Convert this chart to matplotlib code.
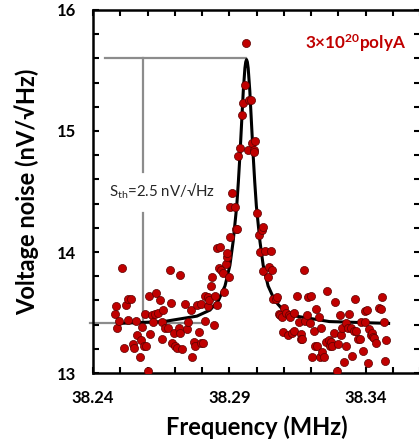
import matplotlib
matplotlib.use("Agg")
import matplotlib.pyplot as plt
from matplotlib.ticker import MultipleLocator

plt.rcParams['font.family'] = ['Lato', 'DejaVu Sans']
plt.rcParams['mathtext.default'] = 'regular'

# measured noise points (MHz, nV/sqrt(Hz))
freq = [38.2506, 38.2484, 38.2482, 38.2489, 38.2496, 38.2513, 38.2520, 38.2528, 38.2539, 38.2530,
        38.2545, 38.2551, 38.2563, 38.2559, 38.2572, 38.2576, 38.2581, 38.2587, 38.2591, 38.2596,
        38.2602, 38.2604, 38.2610, 38.2615, 38.2620, 38.2628, 38.2632, 38.2638, 38.2645, 38.2652,
        38.2654, 38.2657, 38.2665, 38.2675, 38.2681, 38.2687, 38.2691, 38.2696, 38.2702, 38.2708,
        38.2714, 38.2718, 38.2720, 38.2728, 38.2737, 38.2744, 38.2749, 38.2760, 38.2764, 38.2769,
        38.2775, 38.2781, 38.2787, 38.2795, 38.2797, 38.2803, 38.2809, 38.2811, 38.2821, 38.2822,
        38.2827, 38.2831, 38.2837, 38.2843, 38.2848, 38.2853, 38.2856, 38.2864, 38.2861, 38.2870,
        38.2876, 38.2881, 38.2887, 38.2890, 38.2891, 38.2898, 38.2901, 38.2904, 38.2910, 38.2919,
        38.2924, 38.2929, 38.2932, 38.2938, 38.2946, 38.2951, 38.2957, 38.2962, 38.2969, 38.2973,
        38.2979, 38.2983, 38.2989, 38.2991, 38.2995, 38.3001, 38.3007, 38.3018, 38.3024, 38.3013,
        38.3030, 38.3023, 38.3040, 38.3046, 38.3052, 38.3058, 38.3061, 38.3070, 38.3074, 38.3082,
        38.3086, 38.3092, 38.3096, 38.3102, 38.3109, 38.3114, 38.3119, 38.3124, 38.3131, 38.3136,
        38.3138, 38.3149, 38.3155, 38.3162, 38.3162, 38.3168, 38.3173, 38.3177, 38.3185, 38.3190,
        38.3194, 38.3199, 38.3204, 38.3209, 38.3214, 38.3219, 38.3222, 38.3228, 38.3232, 38.3237,
        38.3241, 38.3247, 38.3253, 38.3259, 38.3265, 38.3269, 38.3273, 38.3278, 38.3283, 38.3287,
        38.3293, 38.3299, 38.3304, 38.3308, 38.3314, 38.3320, 38.3326, 38.3329, 38.3336, 38.3340,
        38.3345, 38.3350, 38.3356, 38.3359, 38.3365, 38.3372, 38.3378, 38.3384, 38.3390, 38.3396,
        38.3399, 38.3404, 38.3409, 38.3413, 38.3421, 38.3423, 38.3428, 38.3432, 38.3439, 38.3447,
        38.3456, 38.3460, 38.3466, 38.3472, 38.3475]
noise = [13.87, 13.55, 13.49, 13.37, 13.43, 13.21, 13.56, 13.61, 13.61, 13.44,
         13.24, 13.21, 13.31, 13.43, 13.13, 13.27, 13.38, 13.22, 13.49, 13.22,
         13.02, 13.64, 13.32, 13.48, 13.42, 13.49, 13.66, 13.50, 13.60, 13.42,
         13.28, 13.52, 13.37, 13.37, 13.85, 13.58, 13.25, 13.33, 13.22, 13.21,
         13.37, 13.81, 13.33, 13.20, 13.57, 13.36, 13.42, 13.52, 13.13, 13.26,
         13.22, 13.56, 13.34, 13.57, 13.25, 13.25, 13.43, 13.64, 13.63, 13.55,
         13.60, 13.72, 13.79, 13.40, 13.64, 13.56, 14.03, 14.04, 13.87, 13.85,
         13.83, 13.67, 13.90, 13.96, 13.99, 13.79, 14.12, 14.37, 14.49, 14.37,
         14.19, 14.19, 14.79, 14.86, 15.13, 15.23, 15.38, 15.73, 14.84, 15.26,
         15.26, 14.90, 14.84, 14.83, 14.92, 14.32, 14.14, 14.18, 14.21, 14.00,
         14.01, 13.84, 13.79, 13.88, 14.01, 13.85, 13.61, 13.61, 13.63, 13.49,
         13.48, 13.46, 13.34, 13.54, 13.50, 13.31, 13.48, 13.46, 13.33, 13.50,
         13.35, 13.64, 13.42, 13.32, 13.28, 13.28, 13.85, 13.43, 13.48, 13.63,
         13.41, 13.64, 13.13, 13.35, 13.22, 13.53, 13.22, 13.46, 13.13, 13.37,
         13.17, 13.13, 13.26, 13.68, 13.27, 13.22, 13.26, 13.22, 13.33, 13.59,
         13.02, 13.24, 13.48, 13.31, 13.37, 13.09, 13.22, 13.41, 13.37, 13.49,
         13.37, 13.14, 13.35, 13.61, 13.35, 13.28, 13.28, 13.42, 13.18, 13.42,
         13.51, 13.52, 13.08, 13.36, 13.31, 13.33, 13.30, 13.29, 13.25, 13.54,
         13.53, 13.63, 13.42, 13.10, 13.27]

# fitted curve
fit_freq = [38.2492, 38.2659, 38.2781, 38.2829, 38.2860, 38.2884, 38.2902, 38.2914, 38.2927, 38.2933,
            38.2939, 38.2945, 38.2951, 38.2957, 38.2960, 38.2963, 38.2966, 38.2969, 38.2975, 38.2981,
            38.2987, 38.2993, 38.2999, 38.3012, 38.3024, 38.3042, 38.3066, 38.3097, 38.3145, 38.3267,
            38.3484]
fit_noise = [13.41, 13.425, 13.47, 13.52, 13.60, 13.72, 13.89, 14.09, 14.38, 14.58,
             14.81, 15.07, 15.33, 15.52, 15.57, 15.59, 15.57, 15.52, 15.33, 15.07,
             14.81, 14.58, 14.38, 14.09, 13.89, 13.72, 13.60, 13.52, 13.47, 13.425,
             13.41]

x_ticks = [38.24, 38.29, 38.34]
x_tick_labels = ['38.24', '38.29', '38.34']
y_ticks = [13, 14, 15, 16]
y_tick_labels = ['13', '14', '15', '16']

peak_level = 15.6
base_level = 13.41

fig = plt.figure(figsize=(4.19, 4.48), dpi=100)
ax = fig.add_axes([0.222, 0.1674, 0.781, 0.8103])

gray = '#8c8c8c'
# annotation lines
ax.plot([38.2445, 38.2961], [peak_level, peak_level], color=gray, lw=1.6, zorder=1)
ax.plot([38.2388, 38.2805], [base_level, base_level], color=gray, lw=1.6, zorder=1, clip_on=False)
ax.plot([38.2584, 38.2584], [peak_level, 14.66], color=gray, lw=1.6, zorder=1)
ax.plot([38.2584, 38.2584], [14.32, base_level], color=gray, lw=1.6, zorder=1)
ax.text(38.2652, 14.5, 'S$_{th}$=2.5 nV/\u221aHz', ha='center', va='center',
        fontsize=10.8, color='#262626')

ax.scatter(freq, noise, s=34, color='#c00000', edgecolors='#5a0000', linewidths=0.5, zorder=3)
ax.plot(fit_freq, fit_noise, color='black', lw=2.2, zorder=2)

ax.text(38.3363, 15.73, '3\u00d710$^{20}$polyA', ha='center', va='center',
        fontsize=12.3, fontweight='bold', color='#c00000')

ax.set_xlim(38.24, 38.36)
ax.set_ylim(13, 16)
ax.set_xticks(x_ticks)
ax.set_xticklabels(x_tick_labels)
ax.set_yticks(y_ticks)
ax.set_yticklabels(y_tick_labels)
ax.xaxis.set_minor_locator(MultipleLocator(0.01))
ax.yaxis.set_minor_locator(MultipleLocator(0.2))
ax.tick_params(which='both', direction='in', top=True, right=True, width=1.5, length=4)
ax.tick_params(axis='x', which='major', pad=12, labelsize=12)
ax.tick_params(axis='y', which='major', pad=12, labelsize=12)
for lab in ax.get_xticklabels() + ax.get_yticklabels():
    lab.set_fontweight('bold')
for sp in ax.spines.values():
    sp.set_linewidth(1.8)

ax.set_xlabel('Frequency (MHz)', fontsize=17, fontweight='bold', labelpad=7)
ax.set_ylabel('Voltage noise (nV/\u221aHz)', fontsize=17, fontweight='bold', labelpad=13)

fig.savefig('out.png', dpi=100)
